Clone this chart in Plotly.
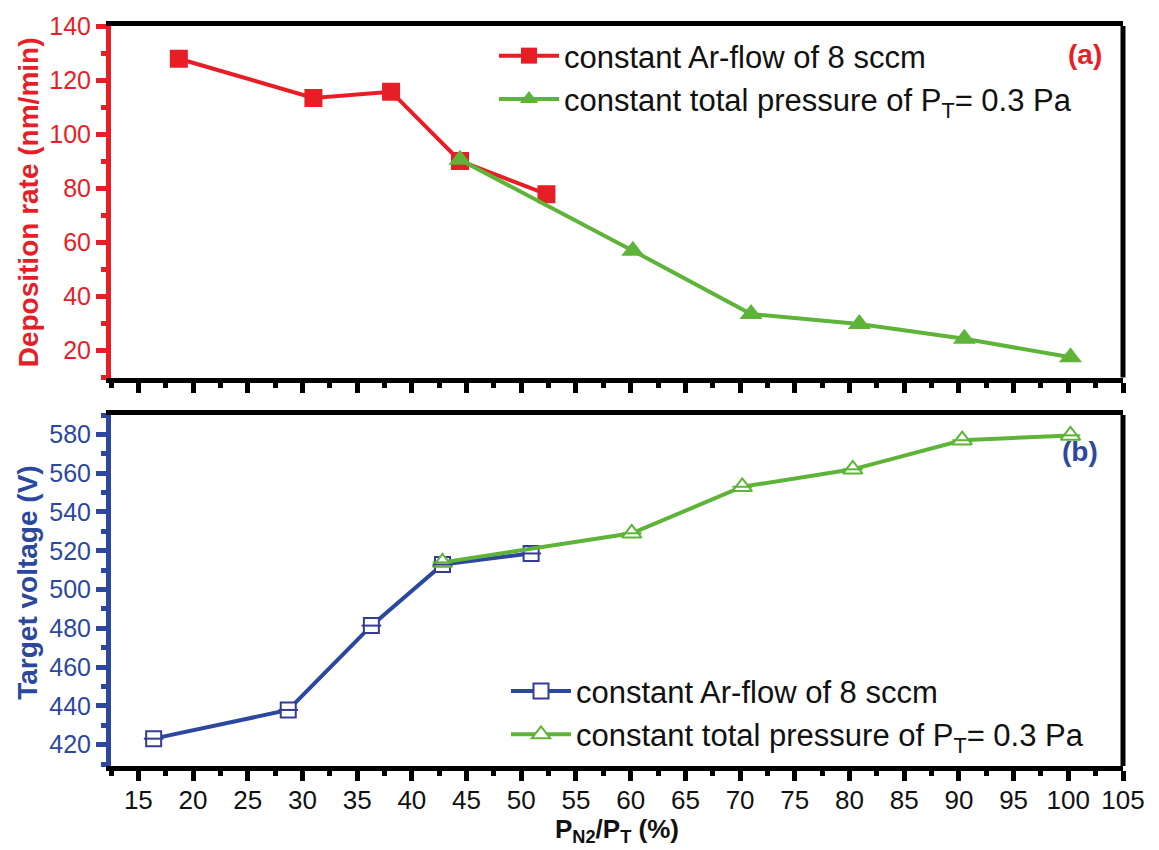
import plotly.graph_objects as go

# ---- data ----
ar_x_top = [18.7, 31.0, 38.1, 44.4, 52.3]
ar_y_top = [127.9, 113.4, 115.7, 90.1, 77.8]
pt_x_top = [44.4, 60.2, 71.0, 80.9, 90.5, 100.2]
pt_y_top = [90.5, 56.9, 33.5, 29.8, 24.3, 17.5]

ar_x_bot = [16.4, 28.7, 36.3, 42.8, 50.9]
ar_y_bot = [423.1, 437.9, 481.4, 512.9, 518.6]
pt_x_bot = [42.8, 60.1, 70.2, 80.3, 90.3, 100.2]
pt_y_bot = [514.0, 529.0, 553.0, 562.0, 577.0, 579.5]

x_ticks = list(range(15, 106, 5))
top_ticks = [20, 40, 60, 80, 100, 120, 140]
bot_ticks = [420, 440, 460, 480, 500, 520, 540, 560, 580]

legend_ar = "constant Ar-flow of 8 sccm"
legend_pt = "constant total pressure of P<sub>T</sub>= 0.3 Pa"

RED = "rgb(232,30,38)"
GREEN = "rgb(94,180,56)"
BLUE = "rgb(44,72,158)"
MBLUE = "rgb(52,60,150)"
FONT = "Liberation Sans, Arial, sans-serif"

fig = go.Figure()

# top panel
fig.add_trace(go.Scatter(x=ar_x_top, y=ar_y_top, mode="lines+markers", name=legend_ar,
                         line=dict(color=RED, width=4),
                         marker=dict(symbol="square", size=18, color=RED),
                         xaxis="x2", yaxis="y2", legend="legend", legendgroup="a1"))
fig.add_trace(go.Scatter(x=pt_x_top, y=pt_y_top, mode="lines+markers", name=legend_pt,
                         line=dict(color=GREEN, width=4),
                         marker=dict(symbol="triangle-up", size=20, color=GREEN),
                         xaxis="x2", yaxis="y2", legend="legend", legendgroup="a2"))

# bottom panel
fig.add_trace(go.Scatter(x=ar_x_bot, y=ar_y_bot, mode="lines+markers", name=legend_ar,
                         line=dict(color=BLUE, width=4),
                         marker=dict(symbol="square", size=15, color="white",
                                     line=dict(color=MBLUE, width=2)),
                         xaxis="x", yaxis="y", legend="legend2", legendgroup="b1"))
fig.add_trace(go.Scatter(x=pt_x_bot, y=pt_y_bot, mode="lines+markers", name=legend_pt,
                         line=dict(color=GREEN, width=4),
                         marker=dict(symbol="triangle-up", size=17, color="white",
                                     line=dict(color=GREEN, width=2)),
                         xaxis="x", yaxis="y", legend="legend2", legendgroup="b2"))
# mid-line detail inside the open markers
fig.add_trace(go.Scatter(x=ar_x_bot, y=ar_y_bot, mode="markers", showlegend=False,
                         marker=dict(symbol="line-ew", size=14, line=dict(color=MBLUE, width=2)),
                         xaxis="x", yaxis="y", hoverinfo="skip"))
fig.add_trace(go.Scatter(x=pt_x_bot, y=pt_y_bot, mode="markers", showlegend=False,
                         marker=dict(symbol="line-ew", size=14, line=dict(color=GREEN, width=2)),
                         xaxis="x", yaxis="y", hoverinfo="skip"))

xcommon = dict(range=[12.5, 105], tickmode="array", tickvals=x_ticks,
               showline=True, linecolor="black", linewidth=5, mirror=True,
               ticks="outside", ticklen=10, tickwidth=5, tickcolor="black",
               minor=dict(dtick=2.5, tick0=12.5, ticks="outside", ticklen=5, tickwidth=5, tickcolor="black"),
               showgrid=False, zeroline=False)

fig.update_layout(
    width=1159, height=850,
    margin=dict(l=111, r=36, t=23, b=84),
    paper_bgcolor="white", plot_bgcolor="white",
    font=dict(family=FONT, color="black"),
    showlegend=True,
    xaxis=dict(**xcommon, domain=[0, 1], anchor="y", ticklabelstandoff=-3,
               tickfont=dict(size=26, color="#111")),
    xaxis2=dict(**xcommon, domain=[0, 1], anchor="y2", matches="x", showticklabels=False),
    yaxis=dict(domain=[0, 0.4743], range=[409, 590], anchor="x",
               tickmode="array", tickvals=bot_ticks,
               showline=True, linecolor=BLUE, linewidth=5,
               ticks="outside", ticklen=10, tickwidth=5, tickcolor=BLUE,
               minor=dict(dtick=10, tick0=410, ticks="outside", ticklen=5, tickwidth=5, tickcolor=BLUE),
               tickfont=dict(size=25, color=BLUE), showgrid=False, zeroline=False),
    yaxis2=dict(domain=[0.525, 1], range=[10, 140], anchor="x2",
                tickmode="array", tickvals=top_ticks,
                showline=True, linecolor=RED, linewidth=5,
                ticks="outside", ticklen=10, tickwidth=5, tickcolor=RED,
                minor=dict(dtick=10, tick0=10, ticks="outside", ticklen=5, tickwidth=5, tickcolor=RED),
                tickfont=dict(size=25, color=RED), showgrid=False, zeroline=False),
    legend=dict(x=(494 - 111) / 1012, y=(766 - 26) / 743, xanchor="left", yanchor="top",
                bgcolor="rgba(0,0,0,0)", font=dict(size=31, color="#111"),
                tracegroupgap=0, itemwidth=60),
    legend2=dict(x=(506 - 111) / 1012, y=(766 - 664) / 743, xanchor="left", yanchor="top",
                 bgcolor="rgba(0,0,0,0)", font=dict(size=31, color="#111"),
                 tracegroupgap=0, itemwidth=60),
    shapes=[
        dict(type="line", xref="x domain", yref="y2 domain", x0=1, x1=1, y0=0, y1=1,
             line=dict(color="black", width=5), layer="above"),
        dict(type="line", xref="x domain", yref="y domain", x0=1, x1=1, y0=0, y1=1,
             line=dict(color="black", width=5), layer="above"),
    ],
    annotations=[
        dict(text="<b>Deposition rate (nm/min)</b>", xref="paper", yref="paper",
             x=-0.082, y=(766 - 200) / 743, textangle=-90, showarrow=False,
             font=dict(size=28, color=RED), xanchor="center", yanchor="middle"),
        dict(text="<b>Target voltage (V)</b>", xref="paper", yref="paper",
             x=-0.082, y=(766 - 582) / 743, textangle=-90, showarrow=False,
             font=dict(size=28, color=BLUE), xanchor="center", yanchor="middle"),
        dict(text="<b>P<sub>N2</sub>/P<sub>T</sub> (%)</b>", xref="paper", yref="paper",
             x=0.5, y=(766 - 849) / 743, showarrow=False,
             font=dict(size=26, color="#111"), xanchor="center", yanchor="bottom"),
        dict(text="<b>(a)</b>", xref="paper", yref="paper",
             x=(1085 - 111) / 1012, y=(766 - 52) / 743, showarrow=False,
             font=dict(size=28, color=RED), xanchor="center", yanchor="middle"),
        dict(text="<b>(b)</b>", xref="paper", yref="paper",
             x=(1080 - 111) / 1012, y=(766 - 450) / 743, showarrow=False,
             font=dict(size=28, color=BLUE), xanchor="center", yanchor="middle"),
    ],
)

fig.write_html("out.html")
